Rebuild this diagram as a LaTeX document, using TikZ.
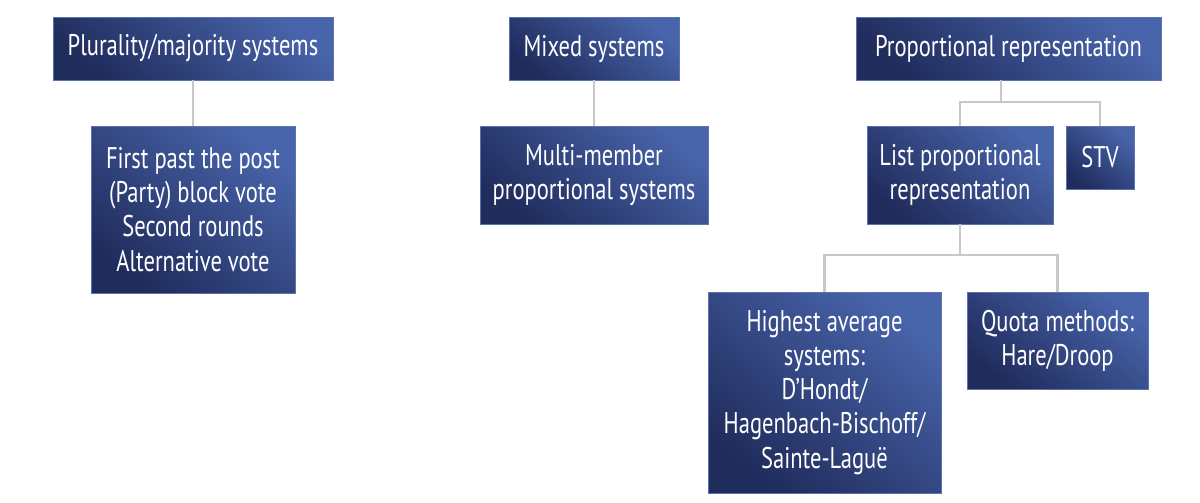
\documentclass[tikz,border=0pt]{standalone}
\usepackage{fontspec}
\setmainfont[FakeStretch=0.755]{PT Sans}
\definecolor{sysdark}{RGB}{32,44,92}
\definecolor{syslight}{RGB}{72,100,170}
\definecolor{sysedge}{RGB}{90,114,178}
\definecolor{linkgray}{RGB}{200,200,200}
\usetikzlibrary{positioning}

\begin{document}
\begin{tikzpicture}[
  x=0.02cm,y=-0.02cm,
  every node/.style={font=\fontsize{17}{19.4}\selectfont},
  sysbox/.style={draw=sysedge,line width=0.5pt,top color=syslight,bottom color=sysdark,
                 shading angle=-40,text=white,align=center,inner sep=0pt},
  link/.style={draw=linkgray,line width=1.6pt},
]
  \useasboundingbox (0,0) rectangle (1200,503);

  % Plurality/majority column
  \node[sysbox,minimum width=5.6cm,minimum height=1.26cm] (plur) at (193,48.5)
    {Plurality/majority systems};
  \node[sysbox,minimum width=4.08cm,minimum height=3.34cm] (fptp) at (193,209.5)
    {First past the post\\(Party) block vote\\Second rounds\\Alternative vote};
  \draw[link] (plur) -- (fptp);

  % Mixed column
  \node[sysbox,minimum width=3.4cm,minimum height=1.26cm] (mixed) at (594,48.5)
    {Mixed systems};
  \node[sysbox,minimum width=4.56cm,minimum height=1.96cm] (multi) at (594,175)
    {Multi-member\\proportional systems};
  \draw[link] (mixed) -- (multi);

  % Proportional representation column
  \node[sysbox,minimum width=6.1cm,minimum height=1.26cm] (prop) at (1008.5,48.5)
    {Proportional representation};
  \node[sysbox,minimum width=3.72cm,minimum height=1.96cm] (listpr) at (960,175)
    {List proportional\\representation};
  \node[sysbox,minimum width=1.36cm,minimum height=1.26cm] (stv) at (1100,157.5)
    {STV};
  \coordinate (prjoin) at (1001,102);
  \draw[link] (prop.south -| prjoin) -- (prjoin);
  \draw[link] (listpr.north) |- (prjoin) -| (stv.north);

  % List PR methods
  \node[sysbox,minimum width=4.66cm,minimum height=4.02cm] (highavg) at (824.5,392.5)
    {Highest average\\systems:\\D{\char"0027}Hondt/\\Hagenbach-Bischoff/\\Sainte-Laguë};
  \node[sysbox,minimum width=3.62cm,minimum height=1.94cm] (quota) at (1057.5,340.5)
    {Quota methods:\\Hare/Droop};
  \coordinate (lsjoin) at (960,255);
  \draw[link] (listpr) -- (lsjoin);
  \draw[link] (highavg.north) |- (lsjoin) -| (quota.north);
\end{tikzpicture}
\end{document}
